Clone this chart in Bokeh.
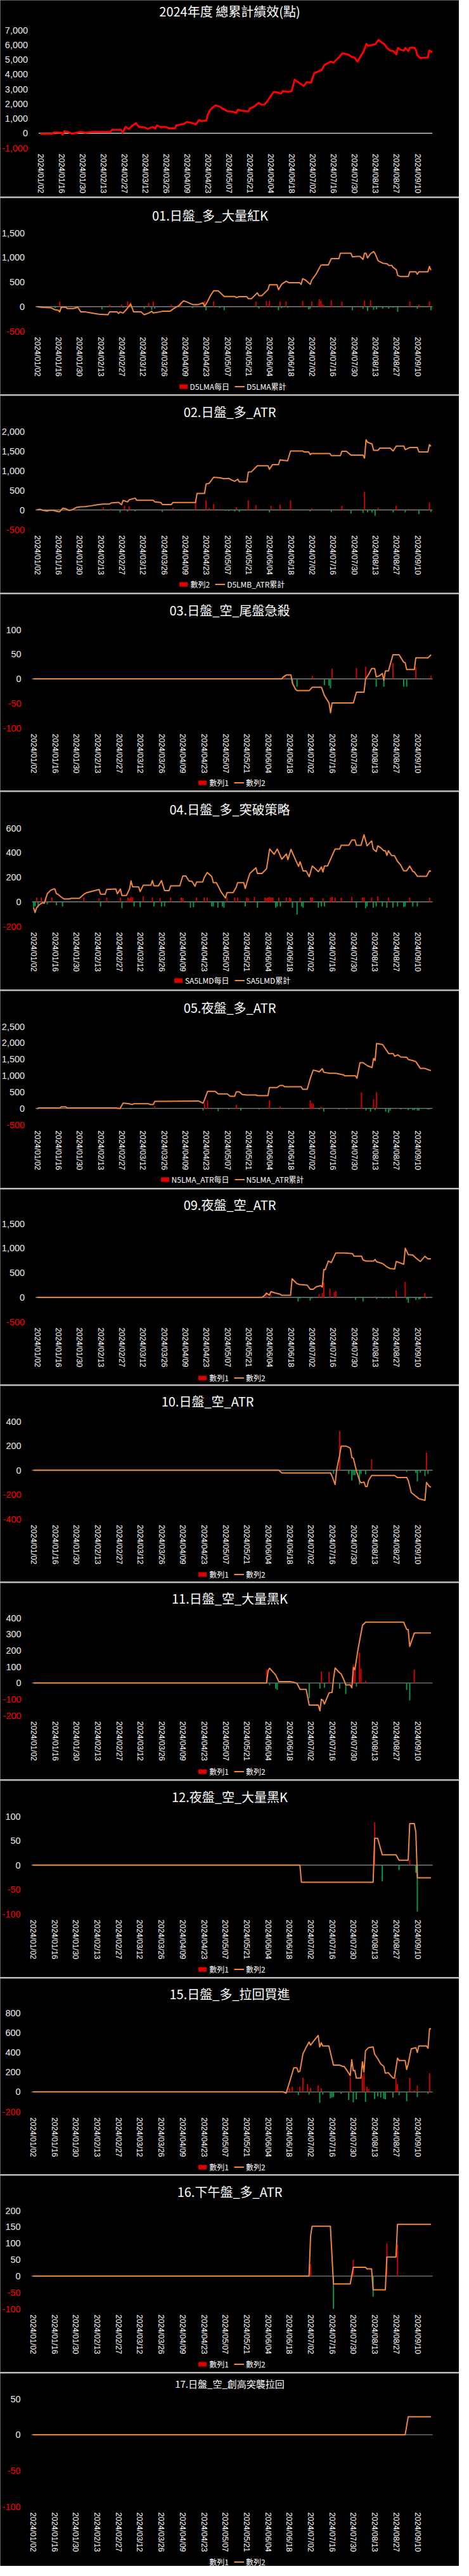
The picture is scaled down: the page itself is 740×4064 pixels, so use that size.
import math
from datetime import date

from bokeh.core.properties import value
from bokeh.embed import file_html
from bokeh.layouts import column
from bokeh.models import ColumnDataSource, Legend, LegendItem, Range1d
from bokeh.plotting import figure
from bokeh.resources import INLINE

# ---------------------------------------------------------------- data
X_TICK_LABELS = ["2024/01/02", "2024/01/16", "2024/01/30", "2024/02/13", "2024/02/27",
                 "2024/03/12", "2024/03/26", "2024/04/09", "2024/04/23", "2024/05/07",
                 "2024/05/21", "2024/06/04", "2024/06/18", "2024/07/02", "2024/07/16",
                 "2024/07/30", "2024/08/13", "2024/08/27", "2024/09/10"]

TITLES = ["2024年度 總累計績效(點)", "01.日盤_多_大量紅K", "02.日盤_多_ATR", "03.日盤_空_尾盤急殺",
          "04.日盤_多_突破策略", "05.夜盤_多_ATR", "09.夜盤_空_ATR", "10.日盤_空_ATR",
          "11.日盤_空_大量黑K", "12.夜盤_空_大量黑K", "15.日盤_多_拉回買進", "16.下午盤_多_ATR",
          "17.日盤_空_創高突襲拉回"]

LEGEND_LABELS = [None,
                 ("D5LMA每日", "D5LMA累計"),
                 ("數列2", "D5LMB_ATR累計"),
                 ("數列1", "數列2"),
                 ("SA5LMD每日", "SA5LMD累計"),
                 ("N5LMA_ATR每日", "N5LMA_ATR累計"),
                 ("數列1", "數列2"), ("數列1", "數列2"), ("數列1", "數列2"),
                 ("數列1", "數列2"), ("數列1", "數列2"), ("數列1", "數列2"),
                 ("數列1", "數列2")]

Y_TICKS_TOTAL = [-1000, 0, 1000, 2000, 3000, 4000, 5000, 6000, 7000]
Y_TICKS_01 = [-500, 0, 500, 1000, 1500]
Y_TICKS_02 = [-500, 0, 500, 1000, 1500, 2000]
Y_TICKS_03 = [-100, -50, 0, 50, 100]
Y_TICKS_04 = [-200, 0, 200, 400, 600]
Y_TICKS_05 = [-500, 0, 500, 1000, 1500, 2000, 2500]
Y_TICKS_09 = [-500, 0, 500, 1000, 1500]
Y_TICKS_10 = [-400, -200, 0, 200, 400]
Y_TICKS_11 = [-200, -100, 0, 100, 200, 300, 400]
Y_TICKS_12 = [-100, -50, 0, 50, 100]
Y_TICKS_15 = [-200, 0, 200, 400, 600, 800]
Y_TICKS_16 = [-100, -50, 0, 50, 100, 150, 200]
Y_TICKS_17 = [-100, -50, 0, 50]

# (calendar days since 2024/01/02, points)
TOTAL_LINE = [(0, -40), (8, -30), (9, 60), (14, 40), (15, -100), (16, 140), (19, 70), (21, -30),
              (27, 100), (30, 40), (36, 100), (47, 100), (48, 240), (54, 240), (55, 40), (57, 430),
              (59, 290), (61, 470), (64, 690), (66, 430), (70, 400), (72, 290), (75, 430), (77, 330),
              (78, 530), (80, 430), (84, 430), (86, 330), (90, 330), (91, 540), (96, 640), (98, 760),
              (101, 710), (104, 610), (106, 890), (108, 830), (111, 860), (112, 1290), (114, 1640),
              (117, 1890), (120, 1810), (122, 1670), (125, 1500), (128, 1470), (131, 1390),
              (132, 1600), (135, 1530), (139, 1470), (140, 1670), (143, 1810), (146, 2070),
              (148, 1930), (150, 1960), (152, 2210), (156, 2810), (159, 2760), (161, 2690),
              (162, 2860), (166, 2810), (168, 2860), (170, 3640), (172, 3500), (176, 3210),
              (178, 3460), (181, 3430), (183, 4070), (186, 4210), (188, 4290), (190, 4640),
              (194, 4860), (196, 4790), (198, 5000), (200, 5190), (202, 5430), (206, 5330),
              (208, 5190), (210, 5140), (212, 4860), (214, 5210), (216, 5530), (218, 6070),
              (219, 5930), (222, 6000), (224, 6040), (226, 6330), (228, 6190), (230, 6040),
              (232, 5760), (234, 5610), (236, 5570), (238, 5360), (239, 5790), (241, 5670),
              (243, 5610), (244, 5790), (246, 5570), (247, 5810), (250, 5810), (251, 5670),
              (252, 5290), (254, 5100), (256, 5130), (259, 5140), (260, 5610), (262, 5500)]

S01_LINE = [(0, 0), (2, -9), (4, -17), (9, -22), (12, -65), (14, -73), (15, -108), (16, -13),
            (19, -13), (20, -39), (24, -39), (26, -22), (27, -13), (29, -108), (32, -108),
            (36, -130), (41, -155), (47, -164), (48, -108), (53, -108), (54, -138), (55, -108),
            (57, -130), (59, -65), (62, 52), (64, -108), (69, -108), (71, -164), (74, -130),
            (76, -95), (77, -130), (81, -108), (83, -95), (88, -95), (91, -30), (94, 22), (97, 116),
            (99, 99), (103, 43), (107, 43), (110, 78), (111, 0), (113, 108), (115, 228), (117, 323),
            (120, 323), (124, 207), (131, 207), (132, 185), (134, 203), (139, 203), (140, 160),
            (142, 160), (146, 280), (147, 224), (149, 224), (153, 345), (154, 444), (159, 444),
            (160, 345), (162, 453), (165, 517), (167, 487), (174, 487), (175, 453), (176, 569),
            (178, 539), (181, 453), (182, 539), (185, 668), (188, 840), (189, 849), (193, 849),
            (195, 978), (200, 978), (201, 1086), (208, 1086), (209, 1013), (212, 1022), (214, 1022),
            (216, 961), (217, 1086), (218, 1086), (219, 991), (221, 1078), (223, 1121), (224, 1078),
            (226, 935), (229, 884), (232, 871), (233, 840), (235, 840), (236, 797), (238, 754),
            (239, 634), (241, 612), (246, 612), (247, 711), (251, 711), (252, 659), (253, 711),
            (259, 711), (260, 819), (261, 741)]
S01_BARS = [(15, 108), (48, 43), (56, 43), (60, 108), (62, 86), (74, 78), (77, 108), (89, 43),
            (95, 78), (111, 116), (117, 108), (145, 108), (152, 116), (154, 116), (161, 108),
            (165, 108), (176, 116), (182, 108), (187, 151), (188, 120), (189, 43), (190, 22),
            (195, 129), (202, 99), (217, 121), (221, 129), (247, 108), (253, 43), (260, 108),
            (12, -30), (16, -43), (26, -22), (43, -56), (57, -22), (71, -43), (76, -65), (78, -43),
            (103, -30), (112, -73), (121, -30), (124, -73), (147, -43), (160, -73), (162, -30),
            (166, -22), (180, -56), (181, -43), (209, -73), (216, -43), (219, -86), (223, -65),
            (225, -56), (229, -43), (233, -43), (236, -22), (239, -108), (252, -43), (261, -73)]

S02_LINE = [(0, 5), (2, 16), (4, -11), (7, -27), (8, -11), (11, -11), (13, -38), (15, -48), (17, 43),
            (19, 32), (21, -11), (23, 0), (25, 43), (26, 64), (29, 80), (32, 86), (36, 107),
            (40, 134), (44, 150), (48, 150), (49, 177), (54, 193), (56, 134), (57, 241), (60, 204),
            (61, 257), (65, 300), (66, 247), (77, 247), (78, 204), (82, 188), (83, 139), (89, 139),
            (90, 188), (105, 188), (106, 418), (111, 418), (112, 660), (114, 676), (117, 831),
            (121, 820), (124, 794), (127, 804), (129, 761), (131, 729), (133, 783), (134, 713),
            (139, 713), (140, 965), (142, 970), (146, 1126), (153, 1126), (154, 1035), (156, 1153),
            (160, 1153), (161, 1276), (166, 1249), (168, 1501), (176, 1501), (177, 1475),
            (180, 1475), (181, 1410), (182, 1437), (194, 1437), (195, 1383), (201, 1383),
            (202, 1491), (205, 1491), (208, 1394), (216, 1394), (217, 1319), (218, 1786),
            (219, 1721), (222, 1678), (223, 1517), (226, 1517), (227, 1571), (234, 1571),
            (236, 1501), (238, 1625), (243, 1625), (244, 1534), (247, 1587), (252, 1587),
            (253, 1475), (259, 1475), (260, 1662), (261, 1614)]
S02_BARS = [(44, 70), (49, 32), (58, 113), (61, 97), (90, 54), (105, 257), (112, 247), (114, 43),
            (117, 150), (132, 70), (140, 247), (145, 123), (155, 107), (161, 139), (168, 247),
            (182, 43), (202, 107), (217, 461), (226, 54), (238, 107), (246, 32), (260, 193),
            (6, -27), (13, -38), (21, -22), (55, -64), (60, -38), (65, -38), (83, -54), (125, -22),
            (127, -27), (131, -38), (134, -48), (154, -64), (181, -38), (195, -54), (208, -91),
            (216, -75), (219, -64), (222, -64), (224, -145), (236, -64), (244, -64), (253, -107),
            (261, -54)]

S03_LINE = [(0, 0), (163, 0), (164, 4), (166, 8), (169, 8), (170, -9), (172, -21), (173, -24),
            (181, -24), (183, -17), (189, -17), (191, -34), (194, -49), (195, -69), (196, -49),
            (210, -49), (212, -27), (217, -27), (218, 0), (220, 9), (222, 21), (224, 21), (225, 4),
            (227, 6), (229, 11), (230, -3), (231, 16), (233, 16), (236, 49), (240, 49), (243, 34),
            (244, 33), (245, 19), (250, 19), (251, 43), (259, 43), (261, 49)]
S03_BARS = [(165, 7), (183, 6), (196, 21), (212, 22), (218, 25), (236, 32), (251, 24), (261, 6),
            (170, -9), (173, -16), (191, -13), (194, -14), (195, -19), (225, -16), (230, -16),
            (243, -16), (245, -16)]

S04_LINE = [(0, -47), (1, -87), (2, -47), (4, -21), (6, -7), (7, -12), (9, 66), (11, 92), (13, 104),
            (14, 104), (15, 66), (16, 62), (18, 40), (20, 23), (23, 23), (25, 28), (30, 28), (33, 61),
            (35, 75), (43, 101), (44, 62), (47, 62), (48, 101), (54, 104), (55, 66), (57, 104),
            (58, 52), (61, 52), (63, 104), (64, 170), (65, 123), (69, 121), (70, 83), (72, 135),
            (77, 135), (78, 173), (79, 130), (82, 130), (84, 173), (86, 92), (89, 92), (90, 130),
            (96, 130), (98, 210), (100, 210), (102, 170), (104, 166), (106, 127), (107, 161),
            (111, 161), (112, 196), (114, 239), (117, 205), (118, 156), (120, 156), (122, 109),
            (123, 83), (126, 31), (127, 75), (131, 75), (133, 118), (134, 156), (138, 156),
            (139, 109), (140, 153), (142, 231), (146, 277), (147, 231), (150, 231), (153, 270),
            (155, 430), (158, 387), (160, 430), (163, 347), (166, 390), (167, 343), (169, 427),
            (172, 343), (174, 288), (175, 326), (177, 251), (179, 251), (181, 205), (183, 291),
            (185, 270), (187, 245), (189, 283), (190, 243), (191, 291), (193, 291), (195, 347),
            (198, 430), (201, 430), (202, 461), (207, 461), (209, 503), (211, 503), (212, 461),
            (215, 461), (217, 546), (219, 456), (222, 496), (223, 430), (225, 409), (226, 456),
            (228, 439), (230, 416), (231, 416), (232, 378), (233, 416), (235, 378), (237, 375),
            (239, 329), (241, 300), (243, 253), (245, 253), (247, 291), (249, 248), (250, 243),
            (252, 208), (258, 208), (260, 253), (261, 248)]
S04_BARS = [(2, 35), (5, 35), (8, 35), (12, 35), (33, 35), (43, 28), (48, 35), (57, 35), (62, 35),
            (63, 30), (64, 40), (65, 35), (72, 45), (78, 35), (83, 30), (90, 35), (97, 35), (98, 30),
            (107, 35), (112, 35), (114, 35), (127, 35), (132, 35), (134, 35), (140, 35), (141, 30),
            (145, 40), (152, 35), (153, 30), (154, 35), (155, 40), (156, 35), (157, 35), (161, 35),
            (166, 35), (168, 35), (169, 30), (175, 35), (182, 35), (183, 35), (190, 30), (195, 35),
            (196, 40), (198, 35), (202, 35), (209, 40), (216, 35), (217, 35), (222, 35), (226, 45),
            (233, 35), (247, 35), (260, 35),
            (0, -47), (1, -38), (3, -47), (9, -21), (15, -29), (19, -38), (44, -38), (58, -52),
            (66, -38), (70, -42), (79, -38), (84, -38), (86, -38), (103, -47), (105, -43),
            (117, -38), (118, -38), (121, -47), (124, -38), (125, -47), (139, -38), (147, -47),
            (159, -47), (160, -38), (162, -38), (170, -47), (173, -104), (176, -38), (177, -47),
            (187, -47), (189, -38), (191, -38), (212, -47), (218, -52), (219, -38), (223, -47),
            (225, -38), (229, -38), (232, -47), (236, -47), (239, -38), (243, -42), (244, -38),
            (249, -38), (252, -38)]

S05_LINE = [(0, -13), (1, 13), (15, 13), (16, 45), (19, 45), (20, 13), (52, 13), (55, 0), (57, 162),
            (61, 143), (63, 117), (64, 143), (74, 143), (75, 117), (77, 117), (78, 214), (107, 227),
            (110, 162), (111, 273), (113, 520), (118, 520), (120, 442), (126, 442), (128, 370),
            (131, 370), (132, 506), (134, 506), (136, 422), (139, 409), (145, 409), (146, 390),
            (153, 390), (154, 636), (159, 636), (161, 701), (163, 701), (164, 662), (175, 662),
            (176, 584), (179, 584), (181, 909), (183, 1169), (186, 1136), (187, 1117), (189, 1214),
            (190, 1104), (194, 1071), (198, 1071), (203, 1026), (204, 994), (211, 994), (212, 922),
            (214, 1396), (216, 1396), (219, 1299), (222, 1247), (223, 1526), (224, 1461),
            (225, 1981), (229, 1948), (233, 1675), (236, 1675), (237, 1591), (239, 1637),
            (241, 1572), (245, 1559), (246, 1494), (249, 1461), (251, 1429), (254, 1221),
            (257, 1221), (260, 1169), (261, 1156)]
S05_BARS = [(78, 78), (111, 162), (113, 247), (132, 110), (154, 247), (161, 65), (181, 247),
            (182, 162), (183, 143), (188, 45), (189, 32), (215, 487), (223, 273), (225, 500),
            (239, 20),
            (57, -20), (62, -20), (110, -65), (120, -84), (127, -32), (135, -65), (147, -32),
            (176, -32), (187, -32), (190, -97), (200, -32), (205, -32), (218, -65), (221, -97),
            (224, -52), (231, -97), (233, -130), (234, -65), (241, -32), (246, -52), (249, -52),
            (250, -52), (252, -65), (253, -65), (259, -32), (260, -32)]

S09_LINE = [(0, 0), (149, 0), (151, 43), (152, 87), (154, 43), (155, 117), (158, 87), (161, 65),
            (162, 43), (168, 43), (169, 378), (172, 283), (174, 261), (179, 248), (181, 165),
            (183, 165), (185, 217), (188, 239), (189, 209), (190, 565), (191, 565), (193, 739),
            (195, 709), (198, 904), (204, 904), (209, 891), (210, 839), (215, 839), (216, 761),
            (218, 739), (223, 739), (224, 770), (225, 726), (229, 687), (232, 617), (234, 587),
            (237, 578), (238, 730), (243, 674), (244, 1000), (246, 870), (249, 861), (251, 804),
            (254, 730), (257, 835), (259, 783), (261, 783)]
S09_BARS = [(152, 65), (155, 52), (187, 65), (189, 87), (190, 304), (194, 174), (197, 109),
            (198, 130), (224, 22), (238, 143), (244, 313), (257, 87),
            (154, -22), (160, -13), (173, -87), (174, -22), (181, -65), (182, -22), (191, -13),
            (208, -13), (211, -52), (216, -87), (225, -35), (229, -22), (231, -13), (233, -22),
            (236, -13), (245, -43), (246, -109), (251, -52), (253, -43), (254, -35), (258, -22)]

S10_LINE = [(0, 0), (161, 0), (163, -22), (195, -22), (196, -48), (198, -117), (199, 3), (201, 124),
            (202, 198), (205, 198), (207, 188), (208, 178), (209, 103), (210, 98), (212, -5),
            (214, -83), (215, -103), (217, -97), (218, -134), (219, -134), (220, -83), (222, -43),
            (237, -43), (239, -60), (245, -60), (246, -83), (247, -131), (248, -183), (250, -203),
            (253, -233), (257, -247), (258, -100), (260, -134), (261, -138)]
S10_BARS = [(201, 322), (222, 90), (258, 145),
            (197, -31), (207, -31), (209, -83), (210, -40), (211, -40), (214, -117), (215, -31),
            (218, -34), (245, -14), (251, -22), (252, -91), (254, -19), (257, -48), (259, -31)]

S11_LINE = [(0, 0), (153, 0), (154, 75), (155, 91), (159, 49), (161, 8), (169, 8), (171, 4),
            (173, -3), (175, -39), (179, -39), (181, -136), (187, -136), (188, -171), (189, -100),
            (190, -107), (191, -129), (194, -61), (196, -58), (197, 30), (198, 92), (201, 62),
            (202, 56), (204, 14), (205, -12), (208, -12), (209, -29), (210, 95), (211, 82),
            (213, 205), (216, 355), (218, 374), (243, 374), (245, 329), (246, 329), (247, 225),
            (250, 307), (261, 307)]
S11_BARS = [(153, 84), (189, 71), (194, 69), (210, 114), (211, 101), (214, 188), (215, 88),
            (218, 14), (250, 84),
            (155, -13), (159, -35), (160, -42), (181, -94), (188, -35), (191, -29), (201, -35),
            (205, -68), (212, -22), (245, -42), (247, -107)]

S12_LINE = [(0, 0), (175, 0), (176, -35), (223, -35), (224, 55), (226, 55), (229, 21), (238, 21),
            (240, 10), (246, 10), (247, 85), (250, 85), (251, 68), (252, -26), (261, -26)]
S12_BARS = [(224, 88), (247, 10), (229, -33), (240, -10), (251, -16), (252, -95)]

S15_LINE = [(0, 0), (164, 0), (165, -7), (166, -12), (169, 140), (171, 244), (173, 244), (174, 202),
            (175, 209), (177, 386), (179, 448), (181, 505), (182, 473), (184, 514), (187, 571),
            (188, 455), (189, 497), (190, 465), (194, 465), (197, 271), (201, 271), (203, 258),
            (204, 258), (206, 214), (208, 165), (209, 325), (210, 214), (211, 219), (212, 140),
            (215, 140), (216, 305), (217, 202), (218, 416), (220, 448), (223, 455), (224, 382),
            (226, 337), (228, 283), (230, 258), (231, 190), (233, 194), (236, 140), (237, 140),
            (239, 342), (240, 318), (244, 318), (245, 226), (246, 283), (248, 436), (251, 448),
            (252, 399), (253, 465), (258, 465), (259, 441), (260, 640), (261, 638)]
S15_BARS = [(168, 42), (170, 54), (175, 54), (177, 145), (180, 79), (182, 42), (187, 66), (189, 37),
            (208, 153), (216, 165), (217, 190), (219, 54), (220, 30), (238, 140), (239, 79),
            (247, 145), (250, 17), (252, 66), (260, 190),
            (174, -32), (181, -27), (188, -111), (190, -27), (195, -64), (196, -57), (197, -52),
            (202, -20), (207, -81), (210, -106), (212, -76), (218, -101), (224, -71), (226, -44),
            (228, -57), (230, -69), (231, -76), (236, -57), (240, -32), (245, -94), (252, -52),
            (259, -20)]

S16_LINE = [(0, 0), (181, 0), (182, 122), (183, 152), (195, 152), (197, -24), (208, -24), (210, 27),
            (218, 27), (219, 22), (222, 22), (223, -42), (231, -42), (232, 58), (238, 58),
            (239, 158), (261, 158)]
S16_BARS = [(182, 37), (210, 50), (232, 100), (239, 96), (197, -100), (223, -63)]

S17_LINE = [(0, 0), (244, 0), (246, 25), (261, 25)]
S17_BARS = []

SERIES = [(TOTAL_LINE, [], Y_TICKS_TOTAL), (S01_LINE, S01_BARS, Y_TICKS_01),
          (S02_LINE, S02_BARS, Y_TICKS_02), (S03_LINE, S03_BARS, Y_TICKS_03),
          (S04_LINE, S04_BARS, Y_TICKS_04), (S05_LINE, S05_BARS, Y_TICKS_05),
          (S09_LINE, S09_BARS, Y_TICKS_09), (S10_LINE, S10_BARS, Y_TICKS_10),
          (S11_LINE, S11_BARS, Y_TICKS_11), (S12_LINE, S12_BARS, Y_TICKS_12),
          (S15_LINE, S15_BARS, Y_TICKS_15), (S16_LINE, S16_BARS, Y_TICKS_16),
          (S17_LINE, S17_BARS, Y_TICKS_17)]

# ---------------------------------------------------------------- layout / style
# (fig height, plot-area top, plot-area bottom, page x of first tick, title y, title page x, title px)
LAYOUT = [(310, 47, 233, 71.0, 17, 370, 20),
          (310, 55, 210, 66.0, 27, 339, 20),
          (311, 56, 211, 66.0, 25, 370, 20),
          (310, 56, 211, 60.5, 25, 370, 20),
          (312, 57, 212, 60.5, 27, 370, 20),
          (311, 56, 211, 66.0, 26, 370, 20),
          (308, 54, 209, 66.0, 24, 370, 20),
          (309, 56, 210, 60.5, 24, 335, 20),
          (310, 55, 209, 60.5, 24, 370, 20),
          (310, 56, 210, 59.5, 25, 370, 20),
          (309, 54, 210, 59.5, 24, 370, 20),
          (310, 55, 210, 59.5, 25, 370, 20),
          (304, 40, 210, 59.5, 16, 370, 15)]

PAGE_X0 = 8
FIG_W = 724
X_START, X_END = -1, 263
LAST_TICK_X = 666.0
Y_LABEL_GAP = 17
LEGEND_CX = 365          # legend centre, figure px
LEGEND_CY = 297          # legend centre from figure top
BG = "#000000"
SEP = "#bfbfbf"
LINE_ORANGE = "#f0883e"
TOTAL_RED = "#ff0000"
BAR_UP = "#e00000"
BAR_DN = "#00a552"
POS_LABEL = "#ececec"
NEG_LABEL = "#ff0000"
CJK = "Noto Sans CJK TC"
LAT = "Liberation Sans"

T0 = date(2024, 1, 2)
TICK_POS = [(date(*map(int, s.split("/"))) - T0).days for s in X_TICK_LABELS]


def text_width(s, size):
    w = 0.0
    for c in s:
        if ord(c) > 0x2E80:
            w += 1.0
        elif c.isdigit():
            w += 0.555
        elif c.isupper():
            w += 0.64
        else:
            w += 0.5
    return w * size


def make_panel(i):
    line_pts, bar_pts, yticks = SERIES[i]
    h, ftop, fbot, x0, ty, tx, tsize = LAYOUT[i]
    span_days = TICK_POS[-1] - TICK_POS[0]
    ppd = (LAST_TICK_X - x0) / span_days
    plot_left = x0 - PAGE_X0 - ppd * (TICK_POS[0] - X_START)   # figure px
    xr0 = X_START - plot_left / ppd
    xr1 = xr0 + FIG_W / ppd
    ymin, ymax = yticks[0], yticks[-1]
    ppv = (fbot - ftop) / (ymax - ymin)
    yr1 = ymax + ftop / ppv
    yr0 = yr1 - h / ppv

    def X(px):
        return xr0 + px / ppd

    def Y(py):
        return yr1 - py / ppv

    p = figure(width=FIG_W, height=h, title=None, toolbar_location=None, output_backend="svg",
               x_range=Range1d(xr0, xr1), y_range=Range1d(yr0, yr1),
               x_axis_location=None, y_axis_location=None, min_border=0,
               min_border_left=0, min_border_right=0, min_border_top=0, min_border_bottom=0,
               background_fill_color=BG, border_fill_color=BG, outline_line_color=None)
    p.xgrid.visible = False
    p.ygrid.visible = False

    # zero line
    zero_col = "#c8c8c8" if i == 0 else "#7f7f7f"
    p.segment(x0=X_START, y0=0, x1=X_END - 1, y1=0, line_color=zero_col, line_width=1.3)

    # daily bars
    up = [(d, v) for d, v in bar_pts if v > 0]
    dn = [(d, v) for d, v in bar_pts if v < 0]
    src_up = ColumnDataSource(dict(x=[d for d, _ in up], top=[v for _, v in up]))
    src_dn = ColumnDataSource(dict(x=[d for d, _ in dn], top=[v for _, v in dn]))
    r_up = p.vbar(x="x", top="top", bottom=0, width=0.75, source=src_up,
                  fill_color=BAR_UP, line_color=None)
    p.vbar(x="x", top="top", bottom=0, width=0.75, source=src_dn,
           fill_color=BAR_DN, line_color=None)

    # cumulative line
    if i == 0:
        lc, lw = TOTAL_RED, 3
    else:
        lc, lw = LINE_ORANGE, 2
    r_line = p.line([d for d, _ in line_pts], [v for _, v in line_pts],
                    line_color=lc, line_width=lw, line_join="round")

    # y tick labels (negatives in red)
    ysrc = ColumnDataSource(dict(
        y=yticks,
        text=[f"{t:,}" for t in yticks],
        color=[NEG_LABEL if t < 0 else POS_LABEL for t in yticks]))
    p.text(x=X(plot_left - Y_LABEL_GAP), y="y", text="text", source=ysrc, text_color="color",
           text_align="right", text_baseline="middle",
           text_font=value(LAT), text_font_size="14.5px")

    # x tick labels (rotated, reading downward)
    xsrc = ColumnDataSource(dict(x=TICK_POS, text=X_TICK_LABELS))
    p.text(x="x", y=Y(fbot + 9), text="text", source=xsrc, angle=-math.pi / 2,
           text_color="#ffffff", text_align="left", text_baseline="middle",
           text_font=value(LAT), text_font_size="12.5px")

    # title
    p.text(x=[X(tx - PAGE_X0)], y=[Y(ty)], text=[TITLES[i]], text_color="#ffffff",
           text_align="center", text_baseline="middle",
           text_font=value(CJK), text_font_size=f"{tsize}px")

    # legend
    if LEGEND_LABELS[i] is not None:
        l1, l2 = LEGEND_LABELS[i]
        gw, gs, sp, fs = 16, 3, 8, 12
        lw_tot = (gw + gs + text_width(l1, fs)) + sp + (gw + gs + text_width(l2, fs))
        lh = 17
        leg = Legend(items=[LegendItem(label=value(l1), renderers=[r_up]),
                            LegendItem(label=value(l2), renderers=[r_line])],
                     orientation="horizontal",
                     location=(LEGEND_CX - lw_tot / 2, h - LEGEND_CY - lh / 2),
                     background_fill_alpha=0, border_line_alpha=0,
                     label_text_color="#ffffff", label_text_font=CJK,
                     label_text_font_size=f"{fs}px", label_standoff=gs,
                     glyph_width=gw, glyph_height=9, label_height=14,
                     spacing=sp, padding=0, margin=0)
        p.add_layout(leg)
    return p


figs = [make_panel(i) for i in range(len(SERIES))]
layout = column(*figs, spacing=2, styles={"background-color": SEP})

with open("out.html", "w") as f:
    f.write(file_html(layout, INLINE, title="2024年度 總累計績效"))
